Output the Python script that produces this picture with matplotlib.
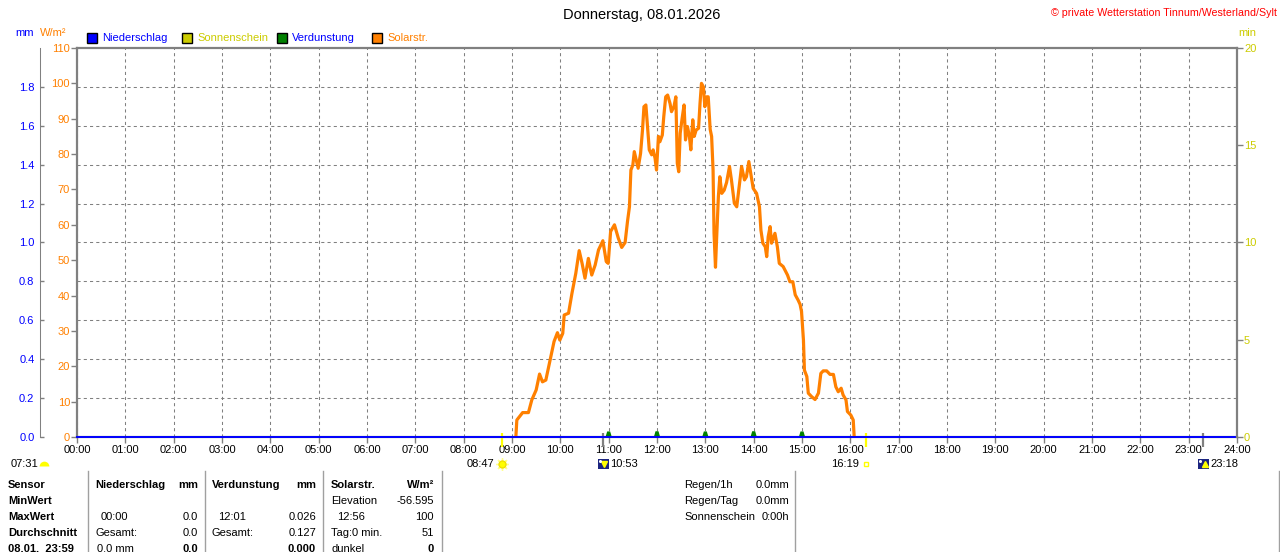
import matplotlib
matplotlib.use("Agg")
import matplotlib.pyplot as plt
from matplotlib.patches import Rectangle
from matplotlib.lines import Line2D
from matplotlib.markers import MarkerStyle
from matplotlib.transforms import offset_copy

# --- data -------------------------------------------------------------
# solar radiation (W/m2) against hour of day
solar_h = [9.08, 9.10, 9.22, 9.34, 9.41, 9.50, 9.57, 9.63, 9.70, 9.79, 9.87,
           9.94, 9.99, 10.05, 10.08, 10.17, 10.24, 10.32, 10.39, 10.45, 10.51,
           10.58, 10.65, 10.72, 10.79, 10.88, 10.95, 10.99, 11.04, 11.12, 11.20,
           11.27, 11.34, 11.39, 11.43, 11.46, 11.50, 11.53, 11.57, 11.61, 11.66,
           11.70, 11.73, 11.77, 11.81, 11.84, 11.89, 11.92, 11.96, 11.99, 12.03,
           12.06, 12.11, 12.14, 12.18, 12.22, 12.27, 12.30, 12.35, 12.39, 12.42,
           12.45, 12.48, 12.52, 12.56, 12.59, 12.63, 12.67, 12.70, 12.74, 12.77,
           12.81, 12.86, 12.89, 12.92, 12.96, 12.99, 13.03, 13.06, 13.10, 13.13,
           13.16, 13.18, 13.21, 13.23, 13.27, 13.30, 13.34, 13.39, 13.44, 13.50,
           13.54, 13.60, 13.65, 13.70, 13.75, 13.81, 13.85, 13.90, 13.95, 13.99,
           14.06, 14.12, 14.15, 14.19, 14.24, 14.27, 14.30, 14.34, 14.37, 14.44,
           14.49, 14.53, 14.61, 14.70, 14.75, 14.81, 14.86, 14.92, 14.96, 14.99,
           15.03, 15.05, 15.10, 15.13, 15.20, 15.27, 15.34, 15.39, 15.44, 15.51,
           15.58, 15.65, 15.70, 15.75, 15.81, 15.85, 15.91, 15.94, 16.01, 16.06,
           16.08]
solar_w = [0.0, 4.8, 6.9, 6.9, 10.5, 13.3, 17.8, 15.6, 16.1, 21.8, 27.0,
           29.5, 27.4, 29.3, 34.5, 35.0, 40.6, 46.3, 52.7, 49.1, 44.9,
           50.5, 45.8, 48.6, 52.9, 55.5, 49.6, 49.1, 58.1, 60.0, 56.2,
           53.6, 55.0, 61.0, 65.1, 75.5, 76.9, 80.7, 78.3, 76.0, 80.2,
           86.8, 93.4, 93.9, 86.8, 81.2, 79.8, 81.2, 78.8, 75.5, 85.0,
           83.5, 85.4, 90.6, 96.2, 96.7, 94.3, 92.0, 93.4, 96.2, 77.4,
           75.0, 85.9, 90.1, 93.9, 84.0, 87.8, 85.0, 81.2, 89.7, 85.0,
           86.8, 87.3, 94.3, 100.0, 99.0, 93.4, 96.2, 96.2, 87.0, 85.0,
           75.5, 57.6, 48.0, 55.0, 68.0, 73.6, 68.9, 69.8, 72.0, 76.5,
           72.7, 66.1, 65.1, 70.8, 76.5, 72.7, 73.6, 77.9, 73.6, 70.3,
           68.9, 65.1, 58.5, 54.8, 53.8, 51.0, 56.6, 59.5, 54.8, 57.6,
           53.8, 49.1, 48.2, 45.8, 43.9, 43.9, 40.2, 38.7, 37.5, 35.5,
           27.4, 18.9, 17.1, 12.4, 11.4, 10.6, 12.4, 18.0, 18.7, 18.7,
           17.7, 17.7, 14.2, 12.8, 13.8, 11.9, 10.5, 7.2, 6.2, 4.8,
           0.0]

# precipitation (mm)
rain_h = [0, 24]
rain_mm = [0.0, 0.0]

# evaporation (mm) per hour
evap_h = [11, 12, 13, 14, 15]
evap_mm = [0.025, 0.026, 0.025, 0.026, 0.025]

sunrise, sunset = "08:47", "16:19"
moonset, moonrise = "10:53", "23:18"
day_length = "07:31"

hour_labels = ["%02d:00" % h for h in range(25)]
mm_ticks = [0.0, 0.2, 0.4, 0.6, 0.8, 1.0, 1.2, 1.4, 1.6, 1.8]
w_ticks = list(range(0, 111, 10))
min_ticks = [0, 5, 10, 15, 20]

GRAY = '#808080'
BLUE = '#0000ff'
ORANGE = '#ff8000'
OLIVE = '#cccc00'
GREEN = '#008000'
RED = '#ff0000'
YELLOW = '#ffff00'
NAVY = '#1c2580'

plt.rcParams['font.family'] = ['Liberation Sans', 'DejaVu Sans']
plt.rcParams['font.size'] = 8

W, H = 1280, 552
fig = plt.figure(figsize=(W / 100, H / 100), dpi=100)


def fx(x):
    return x / W


def fy(y):
    return 1 - y / H


def hm(s):
    h, m = s.split(':')
    return int(h) + int(m) / 60.0


ax = fig.add_axes([fx(77), fy(437), 1160 / W, 389 / H])
ax_w = ax.twinx()
ax_min = ax.twinx()

# mm axis (outer left, carries the grid)
ax.set_xlim(0, 24)
ax.set_ylim(0, 2.0)
ax.set_xticks(range(25))
ax.set_xticklabels(hour_labels)
ax.set_yticks(mm_ticks)
ax.set_yticklabels(["%.1f" % v for v in mm_ticks])
ax.tick_params(axis='x', direction='out', length=4, width=1, color=GRAY, pad=2)
ax.tick_params(axis='y', direction='in', length=3, width=1, color=GRAY,
               labelcolor=BLUE, pad=4)
ax.grid(True, color=GRAY, ls=(0, (3, 3)), lw=0.75)
ax.spines['left'].set_position(('outward', 37 * 0.72))
ax.spines['left'].set_color(GRAY)
ax.spines['left'].set_linewidth(0.75)
ax.spines['right'].set_visible(False)
for s in ('top', 'bottom'):
    ax.spines[s].set_color(GRAY)
    ax.spines[s].set_linewidth(1.6)

# W/m2 axis (inner left)
ax_w.set_ylim(0, 110)
ax_w.yaxis.tick_left()
ax_w.set_yticks(w_ticks)
ax_w.tick_params(axis='y', direction='out', length=4, width=1, color=GRAY,
                 labelcolor=ORANGE, pad=1)
for s in ax_w.spines.values():
    s.set_visible(False)
ax_w.spines['left'].set_visible(True)
ax_w.spines['left'].set_color(GRAY)
ax_w.spines['left'].set_linewidth(1.6)

# min axis (right)
ax_min.set_ylim(0, 20)
ax_min.set_yticks(min_ticks)
ax_min.tick_params(axis='y', direction='out', length=4, width=1, color=GRAY,
                   labelcolor=OLIVE, pad=1)
for s in ax_min.spines.values():
    s.set_visible(False)
ax_min.spines['right'].set_visible(True)
ax_min.spines['right'].set_color(GRAY)
ax_min.spines['right'].set_linewidth(1.6)

# series
ax_w.plot(solar_h, solar_w, color=ORANGE, lw=2.3, zorder=3)
for h, v in zip(evap_h, evap_mm):
    ax_w.fill([h - 0.05, h - 0.02, h + 0.02, h + 0.05], [0, v, v, 0],
              color=GREEN, transform=ax.transData, zorder=4)
ax_w.plot(rain_h, rain_mm, color=BLUE, lw=1.4, transform=ax.transData,
          zorder=5, clip_on=False)

# sun / moon events below the time axis
xt = ax.get_xaxis_transform()
y_top, y_bot, y_icon = 4 / 389, -10 / 389, -27 / 389
for t, col in ((sunrise, YELLOW), (sunset, YELLOW), (moonset, GRAY), (moonrise, GRAY)):
    ax.plot([hm(t), hm(t)], [y_top, y_bot], color=col, lw=1.6, transform=xt,
            clip_on=False, solid_capstyle='butt', zorder=6)

ax.plot(hm(sunrise), y_icon, transform=xt, clip_on=False, marker=(8, 2, 0),
        ms=9, color='#ffff90', mew=1)
ax.plot(hm(sunrise), y_icon, transform=xt, clip_on=False, marker='o',
        ms=5, color=YELLOW, mec='#f0e000')
ax.plot(hm(sunset), y_icon, transform=xt, clip_on=False, marker='s',
        ms=3.5, mfc='none', mec=YELLOW, mew=1)
for t, mk in ((moonset, 'v'), (moonrise, '^')):
    ax.add_patch(Rectangle((hm(t) - 0.11, y_icon - 5 / 389), 0.23, 10 / 389,
                           transform=xt, clip_on=False, fc=NAVY, ec='none'))
    ax.plot(hm(t) + 0.03, y_icon, transform=xt, clip_on=False, marker=mk,
            ms=4, color=YELLOW)
    ax.plot(hm(t) - 0.07, y_icon + 3 / 389, transform=xt, clip_on=False,
            marker='o', ms=2.2, color='white', mec='none')

ax.text(hm(sunrise), y_icon, sunrise, ha='right', va='center',
        transform=offset_copy(xt, fig=fig, x=-7, y=0, units='dots'))
ax.text(hm(sunset), y_icon, sunset, ha='right', va='center',
        transform=offset_copy(xt, fig=fig, x=-7, y=0, units='dots'))
ax.text(hm(moonset), y_icon, moonset, ha='left', va='center',
        transform=offset_copy(xt, fig=fig, x=7, y=0, units='dots'))
ax.text(hm(moonrise), y_icon, moonrise, ha='left', va='center',
        transform=offset_copy(xt, fig=fig, x=7, y=0, units='dots'))

fig.text(fx(11), fy(464), day_length, ha='left', va='center')
fig.add_artist(Line2D([fx(44)], [fy(466)], marker=MarkerStyle('o', fillstyle='top'),
                      ms=7, color=YELLOW, mec='none', mfc=YELLOW,
                      mfcalt='none', transform=fig.transFigure))

# header
fig.text(fx(642), fy(15), "Donnerstag, 08.01.2026", ha='center', va='center',
         fontsize=10.5)
fig.text(fx(1277), fy(13), "\u00a9 private Wetterstation Tinnum/Westerland/Sylt",
         ha='right', va='center', color=RED, fontsize=7.7)
fig.text(fx(15), fy(33), "mm", color=BLUE, va='center')
fig.text(fx(40), fy(33), "W/m\u00b2", color=ORANGE, va='center')
fig.text(fx(1238), fy(33), "min", color=OLIVE, va='center')

legend = [(87, BLUE, "Niederschlag", BLUE), (182, OLIVE, "Sonnenschein", OLIVE),
          (277, GREEN, "Verdunstung", BLUE), (372, ORANGE, "Solarstr.", ORANGE)]
for x, fc, label, tc in legend:
    fig.add_artist(Rectangle((fx(x), fy(43)), 10 / W, 10 / H, fc=fc, ec='black',
                             lw=1, transform=fig.transFigure))
    fig.text(fx(x + 15), fy(38), label, color=tc, va='center')

# bottom table
for x in (88, 205, 323, 442, 795, 1279):
    fig.add_artist(Line2D([fx(x), fx(x)], [fy(471), fy(552)], color='#a0a0a0',
                          lw=1, transform=fig.transFigure))

rows = [485, 501, 517, 533, 549]
cells = [
    (8, 0, "Sensor", 'left', True), (8, 1, "MinWert", 'left', True),
    (8, 2, "MaxWert", 'left', True), (8, 3, "Durchschnitt", 'left', True),
    (8, 4, "08.01.  23:59", 'left', True),
    (95, 0, "Niederschlag", 'left', True), (198, 0, "mm", 'right', True),
    (101, 2, "00:00", 'left', False), (198, 2, "0.0", 'right', False),
    (95, 3, "Gesamt:", 'left', False), (198, 3, "0.0", 'right', False),
    (97, 4, "0.0 mm", 'left', False), (198, 4, "0.0", 'right', True),
    (212, 0, "Verdunstung", 'left', True), (316, 0, "mm", 'right', True),
    (218, 2, "12:01", 'left', False), (316, 2, "0.026", 'right', False),
    (212, 3, "Gesamt:", 'left', False), (316, 3, "0.127", 'right', False),
    (316, 4, "0.000", 'right', True),
    (331, 0, "Solarstr.", 'left', True), (434, 0, "W/m\u00b2", 'right', True),
    (331, 1, "Elevation", 'left', False), (434, 1, "-56.595", 'right', False),
    (337, 2, "12:56", 'left', False), (434, 2, "100", 'right', False),
    (331, 3, "Tag:0 min.", 'left', False), (434, 3, "51", 'right', False),
    (331, 4, "dunkel", 'left', False), (434, 4, "0", 'right', True),
    (684, 0, "Regen/1h", 'left', False), (789, 0, "0.0mm", 'right', False),
    (684, 1, "Regen/Tag", 'left', False), (789, 1, "0.0mm", 'right', False),
    (684, 2, "Sonnenschein", 'left', False), (789, 2, "0:00h", 'right', False),
]
for x, r, s, ha, bold in cells:
    fig.text(fx(x), fy(rows[r]), s, ha=ha, va='center',
             fontweight='bold' if bold else 'normal')

fig.savefig("out.png", dpi=100)
